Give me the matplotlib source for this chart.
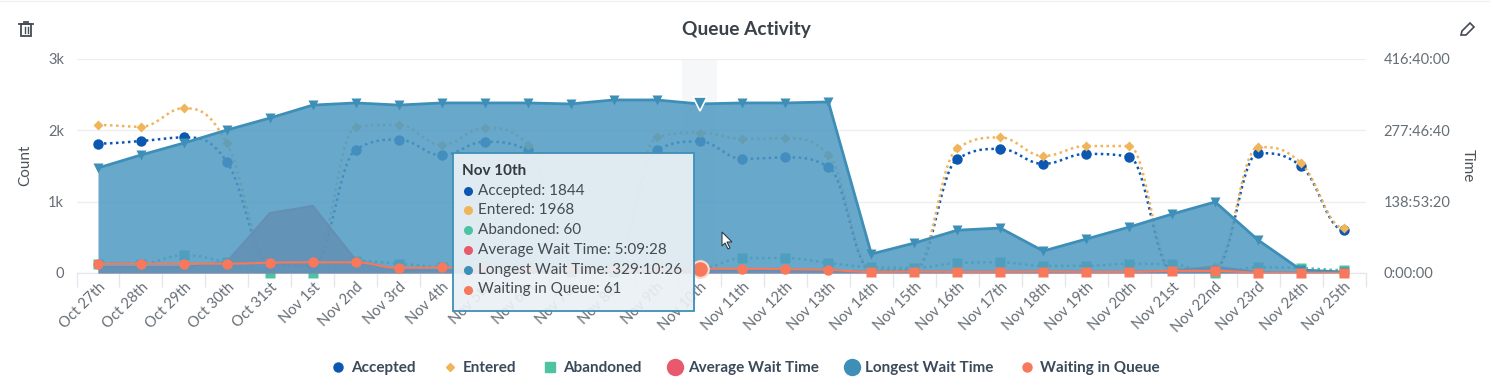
import numpy as np
import matplotlib
matplotlib.use('Agg')
import matplotlib.pyplot as plt
from matplotlib.lines import Line2D
from matplotlib.patches import Rectangle, Polygon
from matplotlib.ticker import FuncFormatter

plt.rcParams['font.family'] = ['Lato', 'DejaVu Sans']

days = ['Oct 27th', 'Oct 28th', 'Oct 29th', 'Oct 30th', 'Oct 31st', 'Nov 1st', 'Nov 2nd', 'Nov 3rd', 'Nov 4th',
        'Nov 5th', 'Nov 6th', 'Nov 7th', 'Nov 8th', 'Nov 9th', 'Nov 10th', 'Nov 11th', 'Nov 12th', 'Nov 13th',
        'Nov 14th', 'Nov 15th', 'Nov 16th', 'Nov 17th', 'Nov 18th', 'Nov 19th', 'Nov 20th', 'Nov 21st',
        'Nov 22nd', 'Nov 23rd', 'Nov 24th', 'Nov 25th']
accepted = [1815, 1850, 1900, 1560, 120, 100, 1730, 1870, 1650, 1840, 1720, 120, 100, 1725, 1844, 1600, 1620, 1490,
            30, 30, 1600, 1740, 1530, 1670, 1630, 40, 60, 1680, 1500, 603]
entered = [2075, 2050, 2310, 1820, 130, 110, 2050, 2075, 1795, 2035, 1800, 130, 110, 1900, 1968, 1880, 1890, 1660,
           40, 40, 1750, 1900, 1640, 1780, 1780, 60, 80, 1765, 1540, 630]
abandoned = [130, 130, 250, 150, 5, 5, 170, 130, 90, 100, 80, 10, 10, 90, 60, 210, 210, 140,
             80, 70, 140, 150, 100, 100, 130, 120, 5, 80, 70, 40]
waiting = [130, 130, 130, 130, 145, 150, 150, 70, 80, 60, 55, 50, 50, 50, 61, 60, 55, 45,
           15, 20, 15, 15, 20, 15, 15, 30, 30, 5, 5, 5]
# wait times in seconds
avg_wait = [42000, 42000, 42000, 77000, 420000, 470000, 91000, 21000, 20000, 20000, 19000, 19000, 18000, 18000,
            18568, 18000, 18000, 17000, 8000, 8000, 8000, 8000, 8000, 8000, 8000, 15000, 45000, 5000, 3000, 2000]
longest_wait = [736000, 827000, 911000, 1002000, 1086000, 1177000, 1192000, 1177000, 1192000, 1192000, 1192000,
                1185000, 1213000, 1213000, 1185026, 1192000, 1192000, 1199000, 133000, 210000, 300000, 315000,
                154000, 238000, 322000, 413000, 498000, 231000, 21000, 7000]

BLUE = '#0c57b0'
ORANGE = '#f0b45a'
GREEN = '#4dc3a3'
RED = '#e8596c'
STEEL = '#3e8fb8'
FILL = '#4d99c2'
CORAL = '#f7785a'
GRAY = '#666e76'


def spline(ys, n=24):
    # same control points as a highcharts spline
    xs = np.arange(len(ys), dtype=float)
    ys = np.array(ys, dtype=float)
    lc = ys.copy()
    rc = ys.copy()
    for i in range(1, len(ys) - 1):
        l = (1.5 * ys[i] + ys[i - 1]) / 2.5
        r = (1.5 * ys[i] + ys[i + 1]) / 2.5
        corr = (r - l) * 0.5 + ys[i] - r
        l += corr
        r += corr
        lo, hi = min(ys[i - 1], ys[i]), max(ys[i - 1], ys[i])
        if l < lo or l > hi:
            l = np.clip(l, lo, hi)
            r = 2 * ys[i] - l
        lo, hi = min(ys[i + 1], ys[i]), max(ys[i + 1], ys[i])
        if r < lo or r > hi:
            r = np.clip(r, lo, hi)
            l = 2 * ys[i] - r
        lc[i] = l
        rc[i] = r
    ox, oy = [], []
    t = np.linspace(0, 1, n)
    for i in range(len(ys) - 1):
        c1x = xs[i] + 0.4
        c2x = xs[i + 1] - 0.4
        ox += list((1-t)**3*xs[i] + 3*(1-t)**2*t*c1x + 3*(1-t)*t**2*c2x + t**3*xs[i+1])
        oy += list((1-t)**3*ys[i] + 3*(1-t)**2*t*rc[i] + 3*(1-t)*t**2*lc[i+1] + t**3*ys[i+1])
    return ox, oy


def hms(sec, pos=None):
    sec = int(round(sec))
    return '%d:%02d:%02d' % (sec // 3600, sec % 3600 // 60, sec % 60)


def px(x, y):
    return x / 1490, 1 - y / 392


fig = plt.figure(figsize=(14.9, 3.92), dpi=100)
ax = fig.add_axes([76.5 / 1490, 1 - 273 / 392, 1289 / 1490, 214 / 392])
ax2 = ax.twinx()
ax3 = ax.twinx()
x = np.arange(len(days))

ax.axvspan(13.6, 14.4, color='#dfe6ee', alpha=0.3, lw=0, zorder=0)
for s, c, m, ms in [(accepted, BLUE, 'o', 7.5), (entered, ORANGE, 'D', 5), (abandoned, GREEN, 's', 6.5)]:
    sx, sy = spline(s)
    ax.plot(sx, sy, ls=(0, (1, 1.4)), color=c, lw=1.8, zorder=3)
    ax.plot(x, s, ls='none', marker=m, ms=ms, color=c, mec='none', zorder=3, clip_on=False)

ax.set_xlim(-0.5, 29.5)
ax.set_ylim(0, 3000)
ax.set_yticks([0, 1000, 2000, 3000], ['0', '1k', '2k', '3k'])
ax.set_xticks(np.arange(-0.5, 30, 1), [''] * 31)
ax.set_xticks(x, days, minor=True)
ax.tick_params(axis='x', which='major', length=10, width=1, color='#e3e7ec')
ax.tick_params(axis='x', which='minor', length=0, pad=5, labelsize=10.5, labelcolor=GRAY, labelrotation=45)
for t in ax.get_xticklabels(minor=True):
    t.set_ha('right')
    t.set_rotation_mode('anchor')
ax.tick_params(axis='y', length=0, labelsize=10.5, labelcolor=GRAY, pad=9)
ax.grid(axis='y', color='#eceef1', lw=1)
ax.set_axisbelow(True)
for k in ax.spines:
    ax.spines[k].set_visible(False)
ax.spines['bottom'].set_visible(True)
ax.spines['bottom'].set_color('#e3e7ec')

ax2.fill_between(x, avg_wait, color=RED, alpha=0.85, lw=0, zorder=1)
ax2.plot(x, avg_wait, color=RED, lw=1.5, zorder=1)
ax2.fill_between(x, longest_wait, color=FILL, alpha=0.85, lw=0, zorder=2)
ax2.plot(x, longest_wait, color=STEEL, lw=2, zorder=3)
ax2.plot(x, longest_wait, ls='none', marker='v', ms=7, color=STEEL, mec='none', zorder=3)
ax2.plot(14, longest_wait[14], ls='none', marker='v', ms=10.5, color=STEEL, mec='white', mew=1.2, zorder=4)
ax2.set_ylim(0, 1500000)
ax2.set_yticks([0, 500000, 1000000, 1500000])
ax2.yaxis.set_major_formatter(FuncFormatter(hms))
ax2.tick_params(axis='y', length=0, labelsize=10.5, labelcolor=GRAY, pad=13)
for k in ax2.spines:
    ax2.spines[k].set_visible(False)

ax3.set_ylim(0, 3000)
ax3.axis('off')
sx, sy = spline(waiting)
ax3.plot(sx, sy, color=CORAL, lw=1.5, zorder=3)
ax3.plot(x[:18], waiting[:18], ls='none', marker='o', ms=7.5, color=CORAL, mec='none', zorder=3, clip_on=False)
ax3.plot(x[18:], waiting[18:], ls='none', marker='s', ms=7, color=CORAL, mec='none', zorder=3, clip_on=False)
ax3.plot(14, waiting[14], ls='none', marker='o', ms=12, color=CORAL, mec='#fbd9d0', mew=1.5, zorder=4, clip_on=False)

fig.text(*px(746.5, 29), 'Queue Activity', ha='center', va='center', fontsize=13.8, fontweight='bold', color='#3a4149')
fig.text(*px(25, 165), 'Count', ha='center', va='center', rotation=90, fontsize=11, color='#4a525a')
fig.text(*px(1468, 166), 'Time', ha='center', va='center', rotation=270, fontsize=11, color='#4a525a')
fig.add_artist(Line2D([0, 1], [1 - 1 / 392] * 2, color='#eef0f2', lw=1))

# trash icon
fig.add_artist(Rectangle(px(21, 36), 10 / 1490, 12 / 392, fill=False, ec='#444b52', lw=1.3))
fig.add_artist(Line2D([19 / 1490, 33 / 1490], [px(0, 24)[1]] * 2, color='#444b52', lw=1.3))
fig.add_artist(Line2D([24 / 1490, 28 / 1490], [px(0, 22)[1]] * 2, color='#444b52', lw=1.3))
for tx in [24.5, 27.5]:
    fig.add_artist(Line2D([tx / 1490] * 2, [px(0, 27)[1], px(0, 33)[1]], color='#444b52', lw=1))
# pencil icon
fig.add_artist(Polygon([px(1461, 35), px(1462, 31), px(1470, 23), px(1474, 27), px(1466, 35)], closed=True,
                       fill=False, ec='#444b52', lw=1.2))

# tooltip
fig.add_artist(Rectangle(px(453, 311), 241 / 1490, 158 / 392, fc='#ebf0f5', alpha=0.92, ec='none', zorder=5))
fig.add_artist(Rectangle(px(453, 311), 241 / 1490, 158 / 392, fill=False, ec=STEEL, lw=1.3, zorder=5))
fig.text(*px(462, 171), days[14], ha='left', va='center', fontsize=11, fontweight='bold', color='#333a41', zorder=6)
tip_rows = [('Accepted: %d' % accepted[14], BLUE), ('Entered: %d' % entered[14], ORANGE),
            ('Abandoned: %d' % abandoned[14], GREEN), ('Average Wait Time: ' + hms(avg_wait[14]), RED),
            ('Longest Wait Time: ' + hms(longest_wait[14]), STEEL), ('Waiting in Queue: %d' % waiting[14], CORAL)]
for i, (txt, c) in enumerate(tip_rows):
    ty = 190.5 + i * 19.8
    fig.add_artist(Line2D([468 / 1490], [px(0, ty)[1]], marker='o', ms=6.5, color=c, mec='none', zorder=6))
    fig.text(*px(478, ty), txt, ha='left', va='center', fontsize=11, color='#444b52', zorder=6)

# mouse cursor
fig.add_artist(Polygon([px(722, 232), px(722, 246), px(725, 243), px(728, 249), px(730, 248), px(727, 242), px(732, 242)],
                       closed=True, fc='white', ec='#333a41', lw=0.8, zorder=6))

handles = [Line2D([], [], color=BLUE, ls='none', marker='o', ms=6.5),
           Line2D([], [], color=ORANGE, ls='none', marker='D', ms=4.5),
           Line2D([], [], color=GREEN, ls='none', marker='s', ms=6.5),
           Line2D([], [], color=RED, ls='none', marker='o', ms=11.5),
           Line2D([], [], color=STEEL, ls='none', marker='o', ms=11.5),
           Line2D([], [], color=CORAL, ls='none', marker='o', ms=6.5)]
names = ['Accepted', 'Entered', 'Abandoned', 'Average Wait Time', 'Longest Wait Time', 'Waiting in Queue']
leg = fig.legend(handles, names, loc='center', bbox_to_anchor=px(746, 368), ncol=6, frameon=False,
                 fontsize=11, handlelength=0.8, handletextpad=0.45, columnspacing=1.8, labelcolor='#3a4a5a')
for t in leg.get_texts():
    t.set_fontweight('bold')

fig.savefig('out.png', dpi=100)
